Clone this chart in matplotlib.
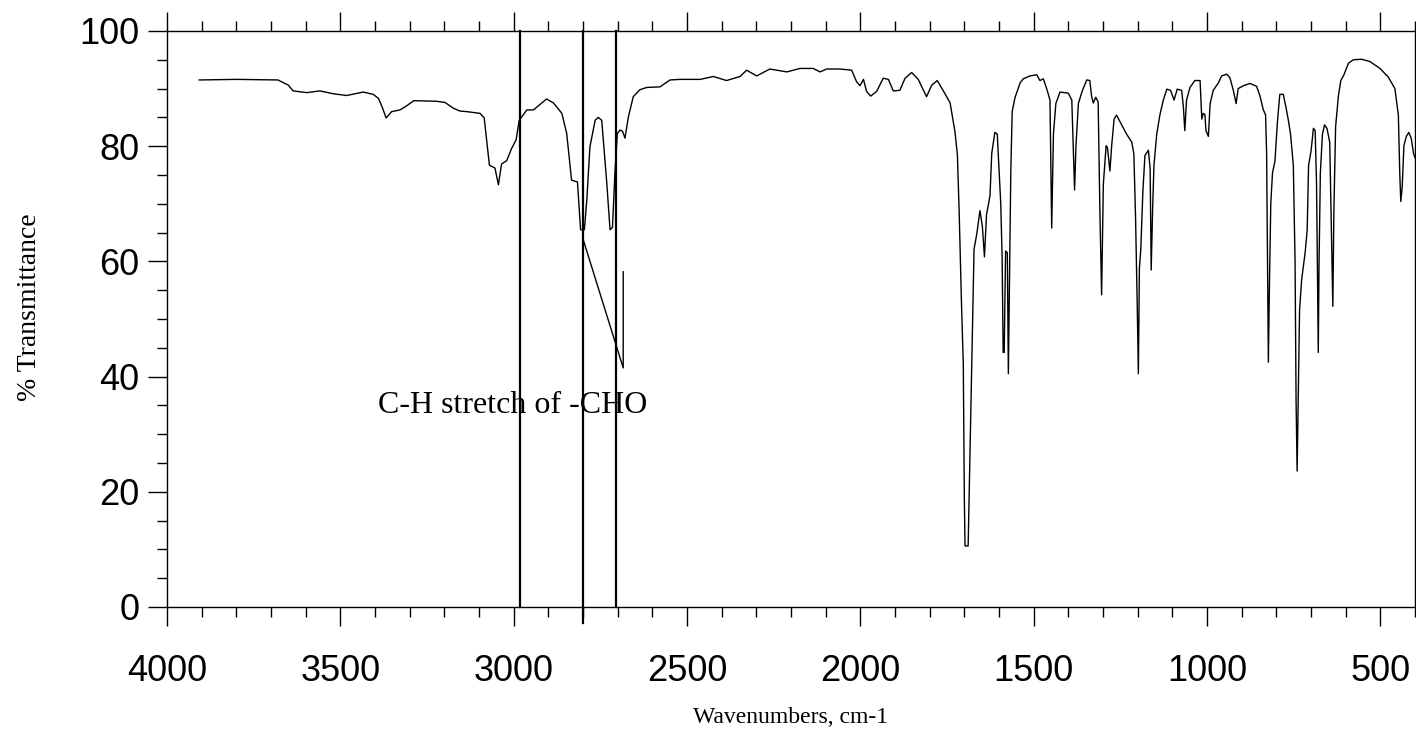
import matplotlib.pyplot as plt
from matplotlib.ticker import MultipleLocator

# IR spectrum (wavenumber, % transmittance)
wavenumber = [
    3907, 3800, 3680, 3650, 3636, 3597, 3559, 3520, 3482, 3434, 3405, 3390, 3378, 3368, 3352,
    3328, 3309, 3288, 3222, 3198, 3174, 3155, 3135, 3097, 3085, 3078, 3070, 3054, 3044, 3035,
    3020, 3006, 2993, 2984, 2962, 2943, 2905, 2885, 2861, 2847, 2833, 2816, 2807, 2796, 2789,
    2780, 2765, 2756, 2746, 2732, 2722, 2715, 2708, 2701, 2693, 2686, 2679, 2669, 2655, 2636,
    2616, 2578, 2549, 2520, 2462, 2424, 2386, 2347, 2328, 2299, 2261, 2212, 2174, 2136, 2116,
    2097, 2059, 2025, 2011, 2001, 1991, 1982, 1970, 1953, 1934, 1919, 1905, 1886, 1871, 1852,
    1833, 1809, 1794, 1778, 1751, 1741, 1727, 1720, 1715, 1708, 1703, 1700, 1698, 1689, 1684,
    1679, 1672, 1664, 1655, 1648, 1642, 1636, 1626, 1621, 1612, 1605, 1595, 1591, 1588, 1585,
    1581, 1576, 1573, 1570, 1566, 1562, 1554, 1539, 1530, 1511, 1491, 1482, 1472, 1461, 1453,
    1448, 1443, 1436, 1424, 1400, 1390, 1386, 1382, 1378, 1371, 1361, 1347, 1338, 1333, 1328,
    1321, 1314, 1309, 1304, 1299, 1291, 1287, 1280, 1275, 1268, 1261, 1246, 1232, 1217, 1211,
    1206, 1201, 1198, 1195, 1191, 1185, 1179, 1169, 1164, 1161, 1157, 1153, 1145, 1136, 1126,
    1116, 1105, 1095, 1086, 1073, 1068, 1064, 1059, 1049, 1035, 1020, 1015, 1011, 1006, 1003,
    996, 991, 982, 967, 958, 943, 934, 924, 916, 910, 895, 876, 857, 847, 838,
    831, 828, 825, 823, 820, 816, 811, 804, 797, 790, 780, 772, 765, 759, 751,
    746, 743, 740, 737, 733, 727, 717, 711, 707, 700, 693, 688, 684, 681, 679,
    677, 673, 667, 661, 654, 646, 640, 637, 634, 629, 621, 614, 605, 592, 578,
    554, 530, 501, 477, 458, 448, 444, 441, 437, 432, 425, 418, 411, 404, 400,
]
transmittance = [
    91.5, 91.6, 91.5, 90.6, 89.6, 89.3, 89.6, 89.1, 88.8, 89.4, 89.0, 88.3, 86.6, 84.9, 86.0,
    86.3, 87.0, 87.9, 87.8, 87.6, 86.6, 86.1, 86.0, 85.7, 84.9, 81.1, 76.7, 76.2, 73.3, 76.9,
    77.5, 79.6, 81.1, 84.5, 86.3, 86.3, 88.2, 87.5, 85.7, 82.2, 74.1, 73.8, 65.5, 65.5, 70.7,
    79.9, 84.5, 85.0, 84.5, 74.1, 65.5, 65.9, 75.3, 82.2, 82.8, 82.6, 81.4, 85.1, 88.6, 89.8,
    90.2, 90.3, 91.5, 91.6, 91.6, 92.1, 91.4, 92.1, 93.2, 92.2, 93.4, 92.9, 93.5, 93.5, 92.9,
    93.4, 93.4, 93.2, 91.2, 90.5, 91.6, 89.5, 88.7, 89.5, 91.8, 91.6, 89.6, 89.7, 91.8, 92.8,
    91.6, 88.6, 90.6, 91.4, 88.6, 87.5, 82.5, 78.5, 68.8, 52.2, 42.2, 18.9, 10.6, 10.6, 25.6,
    41.5, 62.1, 64.8, 68.8, 66.1, 60.8, 68.1, 71.4, 78.7, 82.4, 82.1, 70.1, 60.8, 44.2, 44.2,
    61.8, 61.5, 40.5, 55.5, 75.4, 86.0, 88.4, 91.0, 91.7, 92.2, 92.4, 91.4, 91.7, 89.7, 88.0,
    65.8, 82.1, 87.4, 89.4, 89.2, 88.0, 80.1, 72.4, 80.1, 87.4, 89.4, 91.5, 91.4, 88.7, 87.5,
    88.5, 87.7, 68.8, 54.2, 73.4, 80.1, 79.7, 75.7, 80.1, 84.7, 85.4, 83.7, 82.1, 80.7, 78.7,
    67.4, 51.5, 40.5, 58.8, 62.1, 72.1, 78.4, 79.3, 76.1, 58.5, 68.8, 76.7, 82.1, 85.4, 88.0,
    89.9, 89.7, 88.0, 89.9, 89.7, 86.7, 82.7, 88.0, 90.2, 91.4, 91.4, 84.7, 85.7, 85.5, 82.7,
    81.7, 87.4, 89.7, 91.0, 92.2, 92.5, 91.9, 89.7, 87.4, 90.0, 90.5, 90.9, 90.4, 88.7, 86.4,
    85.4, 78.7, 55.5, 42.5, 55.5, 70.1, 75.4, 77.4, 84.1, 89.0, 89.0, 86.7, 84.4, 82.1, 76.7,
    60.1, 35.5, 23.6, 35.5, 51.5, 56.8, 61.5, 65.4, 76.7, 79.1, 83.1, 82.7, 73.4, 55.5, 44.2,
    58.8, 75.4, 82.1, 83.7, 83.1, 80.7, 62.1, 52.2, 68.8, 83.4, 88.7, 91.4, 92.4, 94.4, 95.0,
    95.1, 94.7, 93.5, 92.0, 90.0, 85.4, 75.4, 70.4, 72.8, 80.1, 81.7, 82.4, 81.4, 78.7, 78.0,
]

# marker lines and the annotation leader
marker_lines = [2983, 2799, 2706]
marker_bottoms = [0, -2.7, 0]
leader_x = [2799, 2684, 2684]
leader_y = [63.7, 41.5, 58.2]
note_text = "C-H stretch of -CHO"

fig = plt.figure(figsize=(14.16, 7.46), dpi=100)
ax = fig.add_axes([167 / 1416, 1 - 607 / 746, 1248 / 1416, 576 / 746])

ax.plot(wavenumber, transmittance, color="black", lw=1.0)

for xv, yb in zip(marker_lines, marker_bottoms):
    ax.plot([xv, xv], [yb, 100], color="black", lw=1.6, clip_on=False)

ax.plot(leader_x, leader_y, color="black", lw=1.0)
ax.text(3391, 33.6, note_text, family="Liberation Serif", fontsize=23,
        ha="left", va="baseline")

ax.set_xlim(4000, 400)
ax.set_ylim(0, 100)

ax.xaxis.set_major_locator(MultipleLocator(500))
ax.xaxis.set_minor_locator(MultipleLocator(100))
ax.yaxis.set_major_locator(MultipleLocator(20))
ax.yaxis.set_minor_locator(MultipleLocator(5))

ax.tick_params(which="both", direction="out", width=1.0, color="black",
               top=True, bottom=True, left=True, right=False,
               labeltop=False, labelright=False)
ax.tick_params(which="major", length=13.7)
ax.tick_params(which="minor", length=7.2)
ax.tick_params(axis="x", which="major", pad=20)
ax.tick_params(axis="y", which="major", pad=6)

for lab in ax.get_xticklabels() + ax.get_yticklabels():
    lab.set_family("Liberation Sans")
    lab.set_fontsize(26)

for sp in ax.spines.values():
    sp.set_linewidth(1.0)

ax.set_xlabel("Wavenumbers, cm-1", family="Liberation Serif", fontsize=17)
ax.xaxis.set_label_coords(0.5, -0.191)
ax.xaxis.label.set_va("center")
ax.set_ylabel("% Transmittance", family="Liberation Serif", fontsize=20)
ax.yaxis.set_label_coords(-0.1098, 0.521)
ax.yaxis.label.set_va("center")

fig.savefig("out.png", dpi=100)
